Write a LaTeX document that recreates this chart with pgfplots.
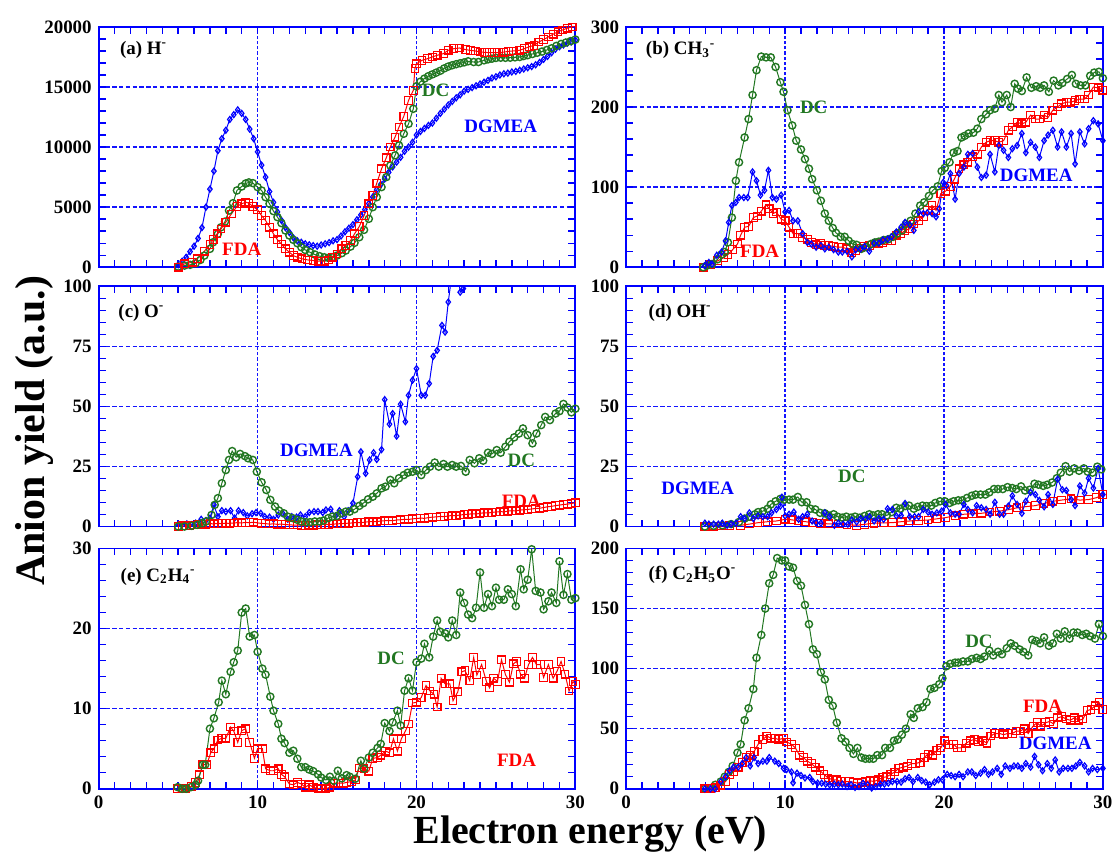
\documentclass[border=0pt]{standalone}
\usepackage{fontspec}
\setmainfont{Liberation Serif}
\usepackage{pgfplots}
\pgfplotsset{compat=1.18}
\definecolor{dcgreen}{RGB}{34,119,34}
\definecolor{gridblue}{RGB}{20,20,255}
\tikzset{lab/.style={font=\bfseries\fontsize{9.5}{10}\selectfont}}
\pgfplotsset{
 panel/.style={
  scale only axis, width=239pt, height=120.5pt,
  xmin=0, xmax=30, xtick={0,10,20,30}, minor x tick num=9,
  minor y tick num=4,
  axis line style={blue, line width=0.9pt},
  every tick/.style={blue, line width=0.7pt},
  tick align=inside, major tick length=3.5pt, minor tick length=3.5pt,
  grid=major,
  grid style={gridblue},
  major grid style={gridblue},
  major x grid style={draw=gridblue, line width=0.75pt, dash pattern=on 1.6pt off 1pt},
  major y grid style={draw=gridblue, line width=0.75pt, dash pattern=on 2.2pt off 1.2pt},
  ticklabel style={font=\bfseries\fontsize{9.5}{10}\selectfont, text=black},
  /pgf/number format/assume math mode=true,
  /pgf/number format/set thousands separator={},
  scaled y ticks=false,
  anchor=south west,
 },
 fda/.style={red, line width=0.5pt, mark=square, mark size=1.9pt, mark options={line width=0.6pt, solid}},
 dc/.style={dcgreen, line width=0.5pt, mark=o, mark size=1.8pt, mark options={line width=0.7pt, solid}},
 dgmea/.style={blue, line width=0.5pt, mark=diamond, mark size=1.5pt, mark options={line width=0.6pt, solid}},
}
\begin{document}
\begin{tikzpicture}
\path (0,0) rectangle (559.5pt,-430pt);
% ---------------- (a) H-
\begin{axis}[panel, at={(49.5pt,-134pt)}, ymin=0, ymax=20000, ytick={0,5000,10000,15000,20000}, xticklabels={}]
\addplot[dgmea] table {
5.00 200
5.25 500
5.50 830
5.75 1300
6.00 1750
6.25 2400
6.50 3300
6.75 5000
7.00 6500
7.25 8000
7.50 9700
7.75 10700
8.00 11400
8.25 12300
8.50 12700
8.75 13100
9.00 12800
9.25 12300
9.50 11500
9.75 10700
10.00 9600
10.25 8500
10.50 7500
10.75 6300
11.00 5400
11.25 4600
11.50 3900
11.75 3300
12.00 2900
12.25 2450
12.50 2200
12.75 2080
13.00 1950
13.25 1870
13.50 1800
13.75 1750
14.00 1850
14.25 1950
14.50 2050
14.75 2200
15.00 2300
15.25 2600
15.50 2950
15.75 3250
16.00 3550
16.25 3950
16.50 4350
16.75 4800
17.00 5300
17.25 5850
17.50 6450
17.75 6900
18.00 7350
18.25 7900
18.50 8350
18.75 8750
19.00 9150
19.25 9650
19.50 10000
19.75 10400
20.00 11000
20.25 11300
20.50 11550
20.75 11800
21.00 12000
21.25 12400
21.50 12800
21.75 13150
22.00 13500
22.25 13800
22.50 14100
22.75 14350
23.00 14650
23.25 14800
23.50 14950
23.75 15100
24.00 15250
24.25 15400
24.50 15550
24.75 15750
25.00 15850
25.25 16000
25.50 16100
25.75 16150
26.00 16250
26.25 16300
26.50 16400
26.75 16500
27.00 16600
27.25 16700
27.50 16850
27.75 17050
28.00 17300
28.25 17550
28.50 17850
28.75 18150
29.00 18350
29.25 18500
29.50 18650
29.75 18750
30.00 18900
};
\addplot[dc] table {
5.0 50
5.4 140
5.75 200
6.1 330
6.4 610
6.65 970
7.0 1530
7.2 2080
7.5 2780
7.7 3330
7.95 3800
8.2 4720
8.45 5330
8.7 6390
9.0 6720
9.25 6970
9.45 7060
9.7 7000
10.0 6670
10.25 6390
10.5 5830
10.75 5280
11.0 4670
11.25 4170
11.5 3670
11.75 3060
12.0 2640
12.25 2280
12.5 2000
12.75 1670
13.0 1440
13.3 1250
13.6 1060
13.9 920
14.2 830
14.45 780
14.7 830
15.0 970
15.3 1170
15.55 1390
15.85 1720
16.1 2030
16.4 2500
16.7 3110
17.0 4030
17.25 5000
17.5 5830
17.8 6670
18.1 7500
18.35 8470
18.65 9310
18.9 10140
19.2 11110
19.5 11940
19.8 13190
20.0 15060
20.25 15450
20.5 15700
20.75 15900
21.0 16050
21.25 16200
21.5 16350
21.75 16550
22.0 16700
22.25 16810
22.5 16900
22.75 16980
23.0 17050
23.25 17140
23.6 17080
23.9 17080
24.25 17220
24.5 17300
24.75 17360
25.0 17420
25.3 17440
25.6 17430
25.9 17440
26.2 17470
26.5 17500
26.75 17580
27.0 17650
27.3 17750
27.6 17850
27.9 17950
28.2 18080
28.5 18220
28.8 18420
29.1 18580
29.4 18700
29.7 18820
30.0 18950
};
\addplot[fda] table {
5.0 0
5.4 280
5.9 420
6.2 700
6.65 1330
7.0 1900
7.2 2300
7.45 2780
7.7 3190
8.0 3750
8.35 4440
8.7 5060
9.0 5280
9.25 5420
9.45 5330
9.7 5060
10.0 4780
10.25 4300
10.5 3890
10.75 3330
11.0 2780
11.25 2280
11.5 1940
11.75 1530
12.0 1250
12.25 970
12.5 830
12.8 700
13.15 610
13.5 560
13.85 500
14.2 500
14.45 610
14.7 830
15.0 1110
15.3 1530
15.55 1800
15.85 2220
16.1 2780
16.4 3390
16.7 4300
17.0 5280
17.25 5970
17.5 7000
17.8 8190
18.1 9110
18.35 10000
18.65 10830
18.9 11670
19.2 12560
19.5 13890
19.8 14720
19.9 16530
20.0 16940
20.35 17220
20.7 17360
21.0 17500
21.3 17640
21.7 17780
22.0 18060
22.35 18190
22.7 18250
23.1 18110
23.4 18050
23.7 18000
24.0 17920
24.3 17880
24.6 17860
24.9 17860
25.2 17860
25.5 17900
25.8 17970
26.1 18000
26.5 18060
26.8 18200
27.1 18350
27.4 18470
27.7 18750
28.0 18950
28.3 19170
28.6 19400
28.9 19600
29.2 19750
29.5 19900
29.8 20000
30.0 20100
};
\node[lab, anchor=west] at (axis cs:0.9,18100) {(a) H\textsuperscript{-}};
\node[lab, dcgreen] at (axis cs:21.2,14700) {DC};
\node[lab, blue] at (axis cs:25.3,11700) {DGMEA};
\node[lab, red] at (axis cs:9.0,1530) {FDA};
\end{axis}
% ---------------- (b) CH3-
\begin{axis}[panel, at={(314pt,-134pt)}, ymin=0, ymax=300, ytick={0,100,200,300}, xticklabels={}]
\addplot[fda] table {
4.85 0
5.3 3
5.75 8
6.15 12
6.4 16
6.7 22
7.0 29
7.2 40
7.45 50
7.7 51
8.0 62
8.25 64
8.5 70
8.8 78
9.0 73
9.25 67
9.45 69
9.75 60
10.0 58
10.25 50
10.5 42
10.8 42
11.1 37
11.4 35
11.65 31
11.95 28
12.25 30
12.5 27
12.75 27
13.05 26
13.35 25
13.6 25
13.9 23
14.2 18
14.45 21
14.75 24
15.0 26
15.3 27
15.6 29
15.9 30
16.15 31
16.45 33
16.7 33
17.0 40
17.3 42
17.55 46
17.85 48
18.1 54
18.4 58
18.7 63
18.95 71
19.25 77
19.5 71
19.8 92
20.1 95
20.4 101
20.65 110
20.95 123
21.25 128
21.5 131
21.8 138
22.1 141
22.35 150
22.65 156
22.9 158
23.2 158
23.45 156
23.75 158
24.05 171
24.3 175
24.6 181
24.9 179
25.15 181
25.45 190
25.75 185
26.0 185
26.3 190
26.55 187
26.85 196
27.15 200
27.4 204
27.7 206
28.0 206
28.25 208
28.55 210
28.85 210
29.1 215
29.4 225
29.7 224
30.0 221
};
\addplot[dc] table {
4.85 0
5.07 2
5.4 4
5.75 10
6.0 16
6.2 19
6.4 31
6.65 62
6.9 108
7.1 131
7.45 162
7.7 185
7.95 215
8.2 246
8.5 263
8.8 262
9.1 262
9.4 250
9.7 231
9.9 219
10.15 196
10.45 177
10.7 158
11.0 147
11.25 135
11.5 123
11.7 110
12.0 96
12.25 83
12.5 67
12.75 58
13.0 49
13.2 43
13.5 38
13.75 38
14.0 33
14.25 29
14.5 28
14.8 23
15.1 25
15.4 29
15.65 31
15.9 32
16.2 34
16.5 35
16.8 38
17.05 42
17.35 46
17.6 54
17.9 58
18.2 67
18.5 77
18.75 81
19.05 89
19.3 96
19.6 101
19.85 120
20.05 124
20.35 131
20.6 143
20.85 145
21.1 162
21.3 164
21.55 167
21.85 168
22.1 173
22.35 185
22.65 191
22.9 196
23.2 198
23.45 215
23.65 206
23.95 215
24.2 200
24.45 229
24.65 223
24.9 220
25.2 237
25.5 224
25.8 226
26.05 224
26.3 227
26.6 219
26.9 233
27.2 227
27.45 230
27.75 235
28.05 240
28.3 229
28.6 227
28.9 227
29.2 239
29.45 243
29.75 244
30.0 236
};
\addplot[dgmea] table {
4.95 2
5.2 6
5.4 4
5.7 15
6.0 19
6.25 33
6.45 56
6.65 77
6.9 81
7.1 87
7.4 87
7.65 87
7.95 119
8.2 108
8.45 90
8.7 96
8.95 121
9.2 87
9.45 85
9.75 90
10.0 69
10.25 71
10.5 58
10.8 58
11.1 42
11.4 31
11.65 29
11.95 25
12.25 27
12.5 23
12.75 25
13.05 22
13.35 19
13.6 19
13.9 20
14.2 13
14.45 22
14.75 23
15.0 26
15.3 20
15.6 30
15.9 30
16.15 34
16.45 35
16.7 38
17.0 44
17.3 50
17.55 56
17.85 53
18.1 46
18.4 69
18.7 67
18.95 68
19.25 67
19.5 63
19.7 73
19.95 106
20.15 102
20.4 117
20.7 85
20.95 117
21.25 125
21.5 141
21.8 142
22.1 125
22.35 112
22.65 115
22.9 141
23.2 119
23.45 152
23.75 146
24.05 137
24.3 148
24.6 152
24.9 167
25.15 143
25.45 156
25.75 150
26.0 137
26.3 158
26.55 165
26.85 171
27.15 150
27.4 169
27.7 150
28.0 167
28.25 129
28.55 169
28.85 154
29.1 173
29.4 183
29.7 179
30.0 158
};
\node[lab, anchor=west] at (axis cs:0.8,271) {(b) CH\textsubscript{3}\textsuperscript{-}};
\node[lab, dcgreen] at (axis cs:11.8,200) {DC};
\node[lab, blue] at (axis cs:25.8,115) {DGMEA};
\node[lab, red] at (axis cs:8.4,20) {FDA};
\end{axis}
% ---------------- (c) O-
\begin{axis}[panel, at={(49.5pt,-264pt)}, ymin=0, ymax=100, ytick={0,25,50,75,100}, xticklabels={}]
\addplot[fda] table {
5.0 0
5.25 0.3
5.5 0.2
5.75 0.5
6.0 0.6
6.25 0.8
6.5 1.0
6.75 0.9
7.0 1.2
7.25 1.1
7.5 1.3
7.75 1.2
8.0 1.4
8.25 1.3
8.5 1.5
8.75 1.6
9.0 1.5
9.25 1.7
9.5 1.6
9.75 1.8
10.0 1.5
10.25 1.3
10.5 1.2
10.75 1.0
11.0 1.1
11.25 0.9
11.5 1.0
11.75 0.8
12.0 0.7
12.25 0.6
12.5 0.6
12.75 0.5
13.0 0.4
13.25 0.6
13.5 0.5
13.75 0.7
14.0 0.8
14.25 0.9
14.5 0.8
14.75 1.0
15.0 1.1
15.25 1.2
15.5 1.3
15.75 1.4
16.0 1.5
16.25 1.7
16.5 1.6
16.75 1.8
17.0 2.0
17.25 2.1
17.5 2.0
17.75 2.3
18.0 2.4
18.25 2.5
18.5 2.4
18.75 2.7
19.0 2.8
19.25 3.0
19.5 2.9
19.75 3.2
20.0 3.3
20.25 3.5
20.5 3.4
20.75 3.7
21.0 3.9
21.25 4.0
21.5 4.2
21.75 4.1
22.0 4.4
22.25 4.6
22.5 4.5
22.75 4.8
23.0 5.0
23.25 5.1
23.5 5.3
23.75 5.2
24.0 5.5
24.25 5.7
24.5 5.6
24.75 5.9
25.0 6.0
25.25 6.2
25.5 6.1
25.75 6.4
26.0 6.6
26.25 6.5
26.5 6.8
26.75 7.0
27.0 7.1
27.25 7.3
27.5 7.5
27.75 7.6
28.0 7.9
28.25 8.2
28.5 8.4
28.75 8.7
29.0 8.9
29.25 9.2
29.5 9.3
29.75 9.6
30.0 9.9
};
\addplot[dc] table {
5.0 0
5.4 0
5.85 0.3
6.2 0.7
6.5 1.4
6.75 2.1
7.1 4.8
7.3 9.0
7.5 11.8
7.75 18.0
8.0 23.5
8.2 27.7
8.4 31.4
8.65 28.8
8.9 30.2
9.2 29.3
9.4 28.4
9.7 27.7
9.95 22.8
10.25 18.4
10.55 15.2
10.8 11.1
11.1 8.3
11.35 6.6
11.65 5.5
11.9 4.1
12.2 3.5
12.5 2.8
12.75 2.1
13.05 1.8
13.3 1.8
13.6 2.1
13.9 2.1
14.15 2.5
14.45 3.5
14.7 4.1
15.0 4.4
15.25 5.5
15.55 6.2
15.8 6.2
16.1 7.2
16.4 8.6
16.65 9.7
16.95 11.3
17.25 12.4
17.5 13.8
17.8 15.9
18.05 16.6
18.35 19.4
18.6 18.0
18.9 20.1
19.2 21.4
19.45 22.4
19.75 22.8
20.0 23.5
20.3 21.4
20.6 23.5
20.85 24.9
21.15 26.6
21.4 24.9
21.7 26.0
21.95 24.9
22.25 25.6
22.5 24.9
22.8 25.2
23.1 22.8
23.35 27.7
23.65 26.3
23.95 28.4
24.2 27.4
24.5 30.7
24.75 30.2
25.05 31.8
25.3 30.7
25.6 33.2
25.85 35.3
26.15 37.1
26.45 38.7
26.7 40.8
27.0 38.0
27.3 34.6
27.55 38.7
27.85 42.2
28.1 45.6
28.4 44.3
28.75 47.0
29.0 48.0
29.25 51.0
29.5 49.5
29.75 47.5
30.0 49.0
};
\addplot[dgmea, clip marker paths=true] table {
5.0 0.3
5.3 0.7
5.55 1.1
5.85 0.7
6.1 1.4
6.45 3.0
6.75 2.5
7.0 3.5
7.25 9.0
7.5 4.1
7.75 6.6
8.0 6.2
8.3 6.6
8.55 3.5
8.8 6.6
9.1 5.8
9.35 4.4
9.65 5.3
9.9 5.8
10.2 5.5
10.45 4.1
10.75 3.9
11.0 3.0
11.3 4.8
11.6 5.3
11.9 3.0
12.15 4.1
12.45 3.9
12.7 4.8
13.0 4.1
13.25 5.8
13.55 6.2
13.8 6.2
14.1 5.8
14.3 6.9
14.6 7.2
14.9 4.4
15.15 6.6
15.45 4.1
15.7 6.6
16.0 9.7
16.3 20.7
16.5 31.1
16.8 22.1
17.05 27.7
17.3 30.7
17.5 27.9
17.8 32.0
18.0 52.8
18.3 42.6
18.5 47.0
18.75 37.6
19.0 50.9
19.3 43.6
19.5 54.6
19.75 60.9
20.0 65.7
20.3 54.6
20.55 54.6
20.8 59.5
21.05 70.8
21.3 73.3
21.6 83.7
21.8 80.9
22.0 93.4
22.25 106
22.5 112
22.75 97.5
22.95 99
23.2 115
23.5 125
};
\node[lab, anchor=west] at (axis cs:0.8,89) {(c) O\textsuperscript{-}};
\node[lab, blue] at (axis cs:13.7,31.8) {DGMEA};
\node[lab, dcgreen] at (axis cs:26.6,27.7) {DC};
\node[lab, red] at (axis cs:26.6,10.4) {FDA};
\end{axis}
% ---------------- (d) OH-
\begin{axis}[panel, at={(314pt,-264pt)}, ymin=0, ymax=100, ytick={0,25,50,75,100}, xticklabels={}]
\addplot[fda] table {
4.95 0
5.5 0.1
6.0 0.2
6.5 0.3
7.2 0.5
7.75 1.0
8.3 1.6
8.9 2.0
9.45 2.3
10.0 3.0
10.4 2.8
10.85 2.3
11.3 2.0
11.7 1.6
12.2 1.3
12.75 1.1
13.35 1.0
13.9 0.8
14.5 0.5
15.0 0.9
15.6 1.4
16.2 1.5
16.75 1.6
17.3 2.0
17.85 2.3
18.4 2.5
19.0 2.7
19.55 3.2
20.1 3.7
20.7 4.5
21.25 5.1
21.8 5.3
22.35 5.5
22.9 6.0
23.5 6.4
24.05 7.0
24.6 7.8
25.2 8.3
25.75 8.7
26.3 9.6
26.85 10.5
27.4 11.0
28.0 11.5
28.55 11.0
29.1 11.2
29.6 12.0
30.0 13.3
};
\addplot[dc] table {
4.95 0
5.5 0.3
6.05 0.5
6.6 1.0
7.1 1.9
7.45 3.3
7.75 4.1
8.1 5.1
8.3 6.0
8.6 6.4
8.9 7.4
9.1 9.2
9.4 10.5
9.7 11.5
9.95 11.2
10.25 11.2
10.5 11.2
10.8 12.3
11.05 10.1
11.35 10.1
11.6 7.4
11.9 7.1
12.2 5.7
12.5 5.5
12.75 4.6
13.05 5.1
13.3 4.1
13.6 3.7
13.85 4.1
14.15 3.7
14.4 4.1
14.7 3.7
15.0 4.4
15.3 5.1
15.55 4.6
15.85 5.1
16.1 5.1
16.4 4.6
16.7 6.0
17.0 7.8
17.25 7.4
17.55 8.5
17.8 8.7
18.1 7.4
18.35 8.2
18.65 8.7
18.9 8.5
19.2 8.7
19.45 9.8
19.75 10.5
20.05 10.5
20.35 9.8
20.6 10.5
20.9 10.9
21.15 10.9
21.45 11.9
21.75 12.8
22.0 13.3
22.3 13.3
22.6 13.3
22.85 14.2
23.15 15.6
23.4 15.6
23.7 15.6
24.0 16.4
24.3 16.0
24.55 15.6
24.85 16.7
25.1 15.0
25.4 15.3
25.7 17.8
25.95 17.4
26.25 16.9
26.5 17.4
26.8 18.3
27.1 20.1
27.35 22.4
27.65 25.1
27.9 22.8
28.2 24.2
28.5 23.2
28.8 24.2
29.05 22.8
29.35 22.4
29.65 24.9
29.9 23.8
};
\addplot[dgmea] table {
4.95 1.4
5.2 1.0
5.5 1.0
5.8 1.0
6.05 1.4
6.35 0.5
6.6 1.0
6.9 1.4
7.2 4.1
7.45 3.3
7.75 5.7
8.0 3.3
8.3 4.4
8.6 4.1
8.9 4.1
9.15 5.7
9.45 7.1
9.7 8.5
9.8 12.2
10.0 4.4
10.25 5.1
10.55 6.0
10.85 3.0
11.1 4.1
11.4 5.1
11.7 2.3
11.95 1.6
12.25 1.4
12.5 5.7
12.8 4.1
13.1 0.5
13.35 1.4
13.65 1.0
13.95 1.0
14.2 2.7
14.5 1.9
14.75 3.3
15.05 3.0
15.3 4.1
15.6 2.3
15.9 3.3
16.2 3.0
16.45 7.4
16.75 7.1
17.0 4.4
17.3 4.6
17.55 9.6
17.85 4.1
18.15 4.1
18.4 4.1
18.7 7.1
19.0 6.0
19.25 5.1
19.55 5.7
19.85 6.4
20.1 9.2
20.4 5.7
20.7 5.1
20.95 5.1
21.25 9.2
21.5 7.1
21.8 5.7
22.05 8.7
22.35 7.8
22.65 7.1
22.9 5.1
23.2 10.1
23.5 5.1
23.75 5.1
24.05 8.5
24.3 12.8
24.6 9.2
24.9 5.5
25.15 10.5
25.45 14.2
25.75 13.3
26.0 10.9
26.3 8.2
26.55 13.3
26.85 9.2
27.15 19.7
27.45 15.3
27.7 15.0
28.0 11.2
28.25 8.7
28.55 16.9
28.85 13.9
29.1 20.1
29.4 16.0
29.7 24.2
30.0 13.3
};
\node[lab, anchor=west] at (axis cs:0.97,89) {(d) OH\textsuperscript{-}};
\node[lab, blue] at (axis cs:4.5,16) {DGMEA};
\node[lab, dcgreen] at (axis cs:14.2,20.8) {DC};
\end{axis}
% ---------------- (e) C2H4-
\begin{axis}[panel, at={(49.5pt,-395.5pt)}, ymin=0, ymax=30, ytick={0,10,20,30}]
\addplot[fda] table {
4.97 0
5.25 0
5.5 0
5.85 0.3
6.1 0.8
6.35 1.75
6.55 3.0
6.8 3.0
7.05 4.5
7.25 5.0
7.5 6.1
7.75 6.3
8.0 6.3
8.3 7.7
8.5 7.2
8.75 5.8
9.0 7.25
9.25 7.5
9.5 5.8
9.8 3.8
10.0 5.0
10.3 5.0
10.5 2.5
10.8 2.25
11.0 2.25
11.3 2.5
11.5 1.8
11.7 1.5
12.0 0.6
12.25 0.5
12.5 0.8
12.75 0.6
13.0 0.2
13.25 0.5
13.5 0.2
13.8 0
14.0 0.1
14.3 0
14.55 0.2
14.8 0.7
15.1 0.7
15.4 0.7
15.6 0.8
15.9 0.9
16.15 1.1
16.4 2.6
16.7 2.5
17.0 2.2
17.25 3.8
17.55 3.9
17.75 4.2
18.05 4.7
18.3 4.5
18.55 6.25
18.8 4.7
19.05 6.25
19.3 7.2
19.5 8.1
19.75 10.7
20.0 10.8
20.3 11.4
20.6 12.9
20.85 12.2
21.1 11.8
21.3 10.2
21.55 13.8
21.8 13.1
22.1 13.1
22.3 11.0
22.6 12.1
22.85 14.6
23.05 14.75
23.35 13.5
23.6 16.4
23.8 14.2
24.1 15.5
24.4 13.4
24.6 12.6
24.85 13.8
25.1 13.4
25.35 16.1
25.6 14.25
25.85 13.3
26.1 15.6
26.3 15.9
26.55 14.3
26.8 13.8
27.05 15.5
27.3 16.4
27.55 15.5
27.8 15.5
28.0 13.9
28.3 15.5
28.6 13.8
28.85 14.7
29.1 15.9
29.35 14.3
29.6 12.2
29.85 13.4
30.0 13.0
};
\addplot[dc] table {
4.97 0.2
5.25 0
5.5 0
5.8 0.2
6.1 0.5
6.25 1.0
6.55 3.0
6.7 3.0
7.0 7.5
7.25 8.8
7.55 10.8
7.75 13.5
8.0 11.8
8.3 14.6
8.5 15.8
8.75 17.25
9.0 22.0
9.25 22.5
9.5 19.0
9.8 19.2
10.0 17.1
10.3 15.0
10.5 14.25
10.8 11.5
11.0 9.75
11.3 8.1
11.5 6.25
11.7 5.7
12.0 4.5
12.25 4.75
12.5 3.75
12.75 2.7
13.0 2.7
13.25 2.4
13.5 2.2
13.8 1.8
14.0 1.4
14.3 1.1
14.55 1.5
14.8 1.0
15.05 2.25
15.3 1.3
15.6 1.7
15.8 1.5
16.15 1.25
16.5 3.5
16.7 2.5
17.0 3.9
17.25 4.5
17.55 5.1
17.75 5.6
18.0 8.2
18.3 7.2
18.5 8.3
18.8 9.75
19.0 7.9
19.25 12.25
19.5 13.8
19.75 12.25
20.0 15.8
20.3 16.25
20.5 18.1
20.8 16.4
21.05 19.0
21.3 21.0
21.5 19.6
21.8 19.4
22.0 18.9
22.25 21.0
22.5 19.2
22.75 24.5
23.0 23.2
23.25 21.75
23.5 21.3
23.75 22.6
24.0 27.0
24.25 22.6
24.5 24.3
24.75 22.8
25.0 25.1
25.2 23.6
25.5 23.6
25.75 24.9
26.0 24.3
26.25 22.8
26.55 27.4
26.75 24.9
27.0 26.1
27.25 29.9
27.5 24.7
27.8 24.5
28.0 22.4
28.3 23.4
28.5 24.5
28.8 23.2
29.0 28.4
29.25 24.2
29.5 26.8
29.75 23.6
30.0 23.8
};
\node[lab, anchor=west] at (axis cs:0.94,26.5) {(e) C\textsubscript{2}H\textsubscript{4}\textsuperscript{-}};
\node[lab, dcgreen] at (axis cs:18.4,16.3) {DC};
\node[lab, red] at (axis cs:26.3,3.5) {FDA};
\end{axis}
% ---------------- (f) C2H5O-
\begin{axis}[panel, at={(314pt,-395.5pt)}, ymin=0, ymax=200, ytick={0,50,100,150,200}]
\addplot[dc] table {
4.95 0
5.3 0.5
5.6 3.3
5.95 6
6.2 10
6.45 14
6.7 19
7.0 30
7.2 37
7.45 57
7.7 67
8.0 83
8.2 109
8.5 128
8.75 150
9.0 171
9.25 178
9.5 192
9.8 190
10.0 190
10.25 185
10.5 184
10.75 173
11.0 169
11.25 153
11.5 137
11.75 116
12.0 112
12.25 97
12.5 91
12.75 74
13.0 69
13.25 55
13.55 42
13.8 39
14.05 34
14.3 29
14.55 34
14.8 26
15.05 25
15.3 25
15.55 25
15.8 28
16.1 28
16.3 34
16.6 34
16.85 40
17.1 41
17.35 45
17.6 50
17.9 62
18.1 59
18.35 67
18.65 68
18.9 72
19.15 83
19.4 84
19.7 87
19.9 92
20.15 102
20.4 104
20.7 105
20.9 105
21.2 106
21.5 106
21.75 108
22.05 109
22.3 108
22.55 110
22.85 115
23.1 111
23.4 114
23.65 112
23.95 117
24.2 121
24.45 119
24.75 116
25.0 114
25.3 111
25.55 124
25.8 123
26.05 121
26.3 126
26.6 119
26.85 121
27.1 129
27.35 125
27.6 131
27.9 125
28.15 130
28.4 130
28.7 128
28.95 129
29.2 127
29.5 125
29.75 137
30.0 127
};
\addplot[fda] table {
4.95 0
5.3 0.5
5.6 1
5.95 3
6.25 6
6.5 12
6.75 14
7.05 18
7.3 22
7.55 26
7.8 28
8.05 31
8.3 37
8.6 41
8.85 44
9.1 42
9.35 42
9.6 41
9.9 42
10.1 39
10.4 37
10.65 34
10.9 28
11.15 26
11.4 23
11.65 21
11.9 18
12.2 15
12.45 12
12.7 9
13.0 7.5
13.25 7.5
13.5 6
13.8 6
14.05 6
14.3 5.5
14.55 4.7
14.8 5.5
15.05 6
15.35 6.7
15.6 6
15.85 7.5
16.15 9.4
16.4 10
16.65 12
16.9 14
17.15 17
17.45 18
17.7 19
17.95 21
18.2 21
18.5 22
18.75 26
19.0 29
19.3 28
19.55 32
19.8 34
20.05 40
20.3 37
20.6 37
20.85 34
21.1 34
21.4 38
21.65 40
21.9 41
22.15 39
22.45 40
22.7 38
22.95 44
23.2 46
23.5 46
23.75 45
24.0 46
24.3 46
24.55 48
24.8 48
25.05 50
25.3 46
25.6 52
25.85 55
26.1 52
26.4 55
26.65 56
26.9 54
27.15 59
27.4 60
27.7 58
27.95 57
28.2 59
28.5 57
28.75 58
29.0 65
29.25 66
29.5 69
29.75 72
30.0 66
};
\addplot[dgmea] table {
4.95 0
5.3 0
5.6 0
5.95 6
6.25 10
6.5 15
6.75 18
7.05 18
7.3 21
7.55 26
7.8 19
8.05 26
8.3 21
8.6 23
8.85 23
9.0 26
9.35 23
9.6 21
9.9 17
10.1 16
10.4 14
10.5 5
10.75 13
11.0 11
11.25 9
11.55 9.4
11.75 6
12.05 4.7
12.3 4.7
12.55 3.9
12.8 3.3
13.1 3.9
13.35 3.3
13.6 3.9
13.9 1.9
14.15 3.3
14.4 1.1
14.65 1.9
14.9 4.7
15.2 3.3
15.45 0.6
15.7 1.9
16.0 3.9
16.25 3.9
16.5 4.7
16.75 6
17.05 6
17.3 5.5
17.55 8.3
17.8 9.4
18.05 6
18.35 9.4
18.6 6.7
18.85 5.5
19.1 3.3
19.4 5.5
19.65 7.5
19.9 7.5
20.2 12
20.45 11
20.7 10
20.95 12
21.2 10
21.5 14
21.75 14
22.0 11
22.3 13
22.55 16
22.8 12
23.05 14
23.35 17
23.6 12
23.85 19
24.15 17
24.4 19
24.65 19
24.9 17
25.15 21
25.45 18
25.7 27
25.95 20
26.2 15
26.5 21
26.75 17
27.0 24
27.25 14
27.5 17
27.8 17
28.05 17
28.3 19
28.55 22
28.85 19
29.1 14
29.35 17
29.65 16
30.0 17
};
\node[lab, anchor=west] at (axis cs:0.97,178) {(f) C\textsubscript{2}H\textsubscript{5}O\textsuperscript{-}};
\node[lab, dcgreen] at (axis cs:22.2,123) {DC};
\node[lab, red] at (axis cs:26.2,69) {FDA};
\node[lab, blue] at (axis cs:27.0,38) {DGMEA};
\end{axis}
\node[rotate=90, font=\bfseries\fontsize{21}{23}\selectfont] at (17.5pt,-216pt) {Anion yield (a.u.)};
\node[font=\bfseries\fontsize{20}{22}\selectfont] at (296pt,-418pt) {Electron energy (eV)};
\end{tikzpicture}
\end{document}
